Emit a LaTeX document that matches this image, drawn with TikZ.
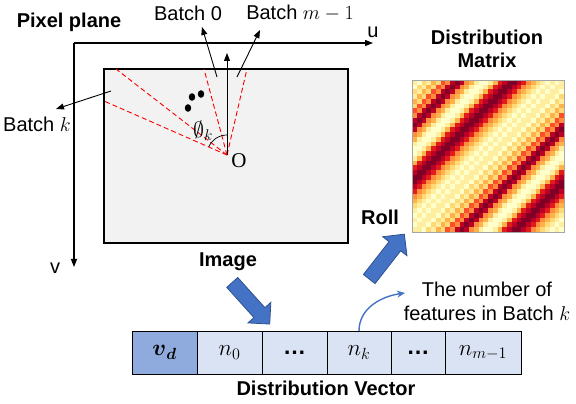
\RequirePackage{fix-cm}
\documentclass[tikz,border=0pt]{standalone}
\usepackage{amsmath}
\usepackage{fontspec}
\setmainfont{Liberation Sans}
\newfontfamily\serifO{Liberation Serif}
\usetikzlibrary{arrows.meta,positioning,shapes.arrows}

\definecolor{planegray}{HTML}{F2F2F2}
\definecolor{celldark}{HTML}{8FAADC}
\definecolor{celllight}{HTML}{DAE3F3}
\definecolor{blueblk}{HTML}{4472C4}
\definecolor{blueedge}{HTML}{2F528F}
\definecolor{matframe}{HTML}{A6A6A6}
\definecolor{ylord0}{HTML}{FFFFCC}
\definecolor{ylord1}{HTML}{FFEDA0}
\definecolor{ylord2}{HTML}{FED976}
\definecolor{ylord3}{HTML}{FEB24C}
\definecolor{ylord4}{HTML}{FD8D3C}
\definecolor{ylord5}{HTML}{FC4E2A}
\definecolor{ylord6}{HTML}{E31A1C}
\definecolor{ylord7}{HTML}{BD0026}
\definecolor{ylord8}{HTML}{800026}

\begin{document}
\begin{tikzpicture}[
  x=1pt,y=1pt,
  font=\fontsize{20}{24}\selectfont,
  >={Triangle[length=8pt,width=6pt]},
  arr/.style={->,line width=0.9pt},
  axis/.style={->,line width=1.2pt},
  ray/.style={red,dashed,dash pattern=on 5pt off 3pt,line width=0.9pt},
  lbl/.style={inner sep=0pt,align=center},
  ttl/.style={inner sep=0pt,align=center,font=\fontsize{20}{23}\selectfont\bfseries},
  cell/.style={draw,line width=0.8pt,minimum height=43pt,inner sep=0pt,outer sep=0pt,fill=celllight,
    font=\fontsize{23}{27}\selectfont},
  blockarr/.style={single arrow,draw=blueedge,fill=blueblk,line width=0.8pt,minimum width=30pt,
    single arrow head extend=8pt,single arrow head indent=0pt,inner xsep=0pt,inner ysep=7pt}
]
\useasboundingbox (0,0) rectangle (576,404);

% pixel plane
\coordinate (org) at (74,361);
\coordinate (uend) at (373,361);
\coordinate (vend) at (74,137);
\draw[axis] (org) -- (uend);
\draw[axis] (org) -- (vend);
\node[lbl] (ulabel) at (373,372) {u};
\node[lbl] (vlabel) at (55,136) {v};
\node[ttl] (pixtitle) at (69,382) {Pixel plane};

\draw[fill=planegray,line width=2.4pt] (104,161) rectangle (348,335);
\coordinate (O) at (227,249);
\coordinate (otop) at (227,351);
\draw[ray] (O) -- (116,335);
\draw[ray] (O) -- (104,303);
\draw[ray] (O) -- (204,335);
\draw[ray] (O) -- (247,335);
\draw[arr] (O) -- (otop);
\node[lbl,font=\serifO\fontsize{21}{24}\selectfont] (olabel) at (239,243) {O};
\draw[line width=0.7pt] (O) ++(90:20) arc[start angle=90,end angle=156,radius=20];
\node[lbl,font=\fontsize{22}{26}\selectfont] (philabel) at (203,273) {$\emptyset_k$};
\fill (192,307) ellipse[x radius=3.2,y radius=3.8];
\fill (201,310) ellipse[x radius=3.2,y radius=3.8];
\fill (188,296) ellipse[x radius=3.2,y radius=3.8];

\coordinate (b0tail) at (217,327);
\coordinate (b0tip) at (202,377);
\coordinate (bmtail) at (237,327);
\coordinate (bmtip) at (260,374);
\coordinate (bktail) at (111,313);
\coordinate (bktip) at (56,295);
\draw[arr] (b0tail) -- (b0tip);
\draw[arr] (bmtail) -- (bmtip);
\draw[arr] (bktail) -- (bktip);
\node[lbl] (b0label) at (188,391) {Batch 0};
\node[lbl] (bmlabel) at (300,391) {Batch $m-1$};
\node[lbl] (bklabel) at (37,280) {Batch $k$};
\node[ttl] (imglabel) at (228,142) {Image};

% distribution matrix
\node[ttl] (mattitle) at (487,355.5) {Distribution\\Matrix};
\foreach \i in {0,...,31}{
  \foreach \j in {0,...,31}{
    \pgfmathtruncatemacro{\t}{mod(\i+\j,32)}
    \pgfmathtruncatemacro{\c}{{1,0,2,1,3,2,5,4,7,8,7,4,3,1,0,0,1,3,6,7,8,8,7,6,4,3,2,1,0,1,0,1}[\t]}
    \fill[ylord\c] ({412+\j*4.75},{324-\i*4.75}) rectangle ++(4.85,-4.85);
  }
}
\draw[matframe,line width=0.8pt] (412,172) rectangle (564,324);

% block arrows
\node[blockarr,rotate=-48,minimum height=56pt] (imgarr) at (248.5,103.5) {};
\node[blockarr,rotate=52,minimum height=57pt] (rollarr) at (384.5,144.5) {};
\node[ttl] (rolllabel) at (380,187) {Roll};

% distribution vector
\node[cell,fill=celldark,minimum width=65pt] (vd) at (164.5,51.5) {$\boldsymbol{v}_{\boldsymbol{d}}$};
\node[cell,minimum width=65pt,right=0pt of vd] (n0) {$n_0$};
\node[cell,minimum width=65pt,right=0pt of n0] (dotsa) {\textbf{\dots}};
\node[cell,minimum width=64pt,right=0pt of dotsa] (nk) {$n_k$};
\node[cell,minimum width=54pt,right=0pt of nk] (dotsb) {\textbf{\dots}};
\node[cell,minimum width=76pt,right=0pt of dotsb] (nm) {$n_{m-1}$};
\node[ttl] (vectitle) at (326,16) {Distribution Vector};

\node[lbl] (featnote) at (487,103) {The number of\\features in Batch $k$};
\coordinate (featend) at (405,111);
\draw[->,blueblk,line width=1.4pt,>={Stealth[length=8pt,width=7pt]}] (nk.north) to[out=90,in=188] (featend);
\end{tikzpicture}
\end{document}
